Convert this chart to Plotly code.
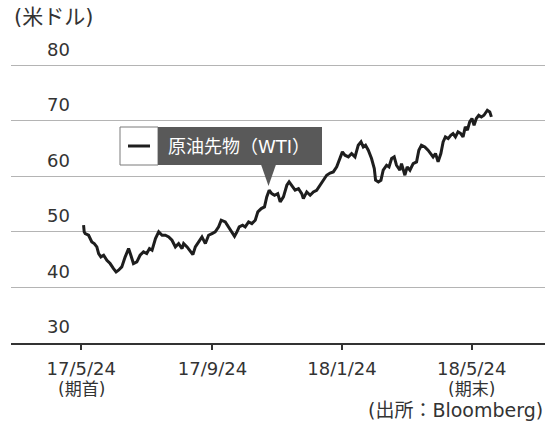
import plotly.graph_objects as go

# Trading-day index (from 17/5/24) and WTI crude futures price (USD)
day = [0.4, 0.8, 1.4, 3.5, 5.5, 7.0, 8.6, 9.7, 11.1, 12.8, 14.8, 16.8, 18.9, 20.5, 22.0, 24.0,
       26.1, 28.2, 29.6, 31.2, 33.3, 35.3, 37.4, 39.4, 41.1, 42.7, 44.8, 46.8, 48.9, 50.9, 53.0,
       55.0, 57.1, 59.1, 61.2, 62.2, 64.3, 66.3, 67.9, 69.4, 71.5, 73.5, 75.6, 77.6, 79.7, 81.7,
       83.8, 85.4, 87.9, 89.9, 92.0, 93.6, 95.1, 96.5, 98.6, 100.2, 102.3, 104.3, 106.4, 108.0,
       110.1, 112.1, 113.5, 115.0, 116.6, 118.3, 120.3, 121.8, 123.8, 125.9, 127.3, 129.4, 131.0,
       133.1, 135.1, 136.1, 138.2, 140.3, 142.3, 144.3, 146.4, 148.5, 150.5, 152.6, 154.6, 156.7,
       158.8, 160.2, 161.8, 163.9, 165.9, 168.0, 170.0, 171.7, 173.1, 174.5, 176.2, 178.2, 179.9,
       180.7, 182.4, 184.0, 185.4, 187.5, 189.0, 190.6, 192.2, 193.6, 195.7, 196.7, 198.8, 200.2,
       201.9, 203.9, 206.0, 207.4, 209.0, 211.1, 213.1, 215.2, 216.2, 217.7, 219.3, 221.0, 222.4,
       223.8, 225.5, 227.1, 228.5, 230.0, 231.6, 233.3, 234.7, 236.1, 237.4, 238.8, 240.2, 241.5,
       242.9, 244.4, 246.0, 247.6, 249.7, 251.2, 252.2]
price = [51.2, 50.0, 49.7, 49.4, 48.2, 47.9, 47.3, 46.1, 45.5, 45.8, 44.9, 44.3, 43.4, 42.8, 43.1, 43.7,
         45.5, 47.0, 45.8, 44.3, 44.6, 45.8, 46.4, 46.1, 47.0, 46.7, 48.8, 50.0, 49.4, 49.4, 49.1,
         48.5, 47.3, 47.9, 47.0, 47.9, 47.3, 46.4, 45.9, 47.3, 48.2, 49.1, 47.9, 49.4, 49.7, 50.0,
         50.9, 52.1, 51.8, 50.9, 50.0, 49.2, 50.0, 50.9, 51.2, 50.9, 51.8, 51.5, 52.1, 53.6,
         54.2, 54.5, 56.3, 57.5, 56.9, 56.6, 56.9, 55.4, 56.3, 58.4, 59.0, 58.1, 57.5,
         57.8, 56.9, 56.0, 57.2, 56.6, 57.2, 57.5, 58.4, 59.3, 60.2, 60.6, 60.8, 61.7,
         63.2, 64.4, 63.8, 63.5, 64.1, 63.5, 65.6, 66.2, 65.3, 65.6, 64.7, 63.2, 61.4,
         59.3, 59.0, 59.3, 61.1, 62.0, 61.7, 63.2, 63.5, 62.0, 61.1, 62.3, 60.2, 61.7,
         61.1, 62.3, 62.6, 64.7, 65.6, 65.3, 64.7, 63.8, 63.5, 64.1, 62.6, 64.1, 66.2,
         67.1, 66.8, 67.4, 67.7, 67.1, 68.0, 67.7, 67.1, 68.9, 68.3, 69.8, 70.4, 69.2,
         70.4, 71.0, 70.7, 71.0, 71.9, 71.6, 70.7]

tick_days = [-1, 80, 160, 240]
tick_labels = ["17/5/24", "17/9/24", "18/1/24", "18/5/24"]
period_days = [-1, 240]
period_labels = ["(期首)", "(期末)"]
y_ticks = [30, 40, 50, 60, 70, 80]

FONT = "DejaVu Sans, Noto Sans CJK JP, sans-serif"
W, H = 545, 428
ML, MR, MT, MB = 11, 0, 25, 85
TXT = "#333333"

fig = go.Figure()
fig.add_trace(go.Scatter(x=day, y=price, mode="lines",
                         line=dict(color="#1e1e1e", width=3), showlegend=False,
                         hoverinfo="skip"))

# pixel -> paper helpers for the callout legend
def px(x):
    return (x - ML) / (W - ML - MR)

def py(y):
    return (H - MB - y) / (H - MT - MB)

shapes = [
    dict(type="rect", xref="paper", yref="paper", x0=px(120), x1=px(158), y0=py(165), y1=py(127),
         fillcolor="white", line=dict(color="#7a7a7a", width=1)),
    dict(type="rect", xref="paper", yref="paper", x0=px(158), x1=px(322), y0=py(165), y1=py(127),
         fillcolor="#595959", line=dict(width=0)),
    dict(type="path", xref="paper", yref="paper",
         path=f"M {px(261)},{py(164.5)} L {px(276)},{py(164.5)} L {px(268.5)},{py(186)} Z",
         fillcolor="#595959", line=dict(width=0)),
    dict(type="line", xref="paper", yref="paper", x0=px(128), x1=px(150), y0=py(146), y1=py(146),
         line=dict(color="#1e1e1e", width=3)),
]

annotations = [
    dict(text="原油先物（WTI）", xref="paper", yref="paper", x=px(239), y=py(146),
         xanchor="center", yanchor="middle", showarrow=False,
         font=dict(family=FONT, size=18, color="white")),
    dict(text="(米ドル)", xref="paper", yref="paper", x=px(12), y=py(17),
         xanchor="left", yanchor="middle", showarrow=False,
         font=dict(family=FONT, size=21, color=TXT)),
    dict(text="(出所：Bloomberg)", xref="paper", yref="paper", x=px(545), y=py(410),
         xanchor="right", yanchor="middle", showarrow=False,
         font=dict(family=FONT, size=19, color=TXT)),
]
for d, lab in zip(period_days, period_labels):
    annotations.append(dict(text=lab, xref="x", yref="paper", x=d, y=py(389),
                            xanchor="center", yanchor="middle", showarrow=False,
                            font=dict(family=FONT, size=17, color=TXT)))

fig.update_layout(
    width=W, height=H,
    margin=dict(l=ML, r=MR, t=MT, b=MB),
    paper_bgcolor="white", plot_bgcolor="white",
    font=dict(family=FONT, size=18, color=TXT),
    shapes=shapes, annotations=annotations,
    xaxis=dict(range=[-44.4, 285.3], tickvals=tick_days, ticktext=tick_labels,
               showgrid=False, zeroline=False, showline=True, linecolor="#333333", linewidth=1.5,
               ticks="outside", ticklen=5, tickcolor="#333333", tickwidth=1.5,
               ticklabelstandoff=4,
               tickfont=dict(family=FONT, size=18, color=TXT)),
    yaxis=dict(range=[30, 87.24], tickvals=y_ticks, showgrid=True, gridcolor="#b4b4b4", gridwidth=1,
               zeroline=False, showline=False, ticks="",
               ticklabelposition="inside", ticklabelstandoff=33, ticklabelshift=-16,
               tickfont=dict(family=FONT, size=18, color=TXT)),
)

fig.write_html("out.html", config={"displayModeBar": False},
               post_script="document.body.style.margin='0';")
